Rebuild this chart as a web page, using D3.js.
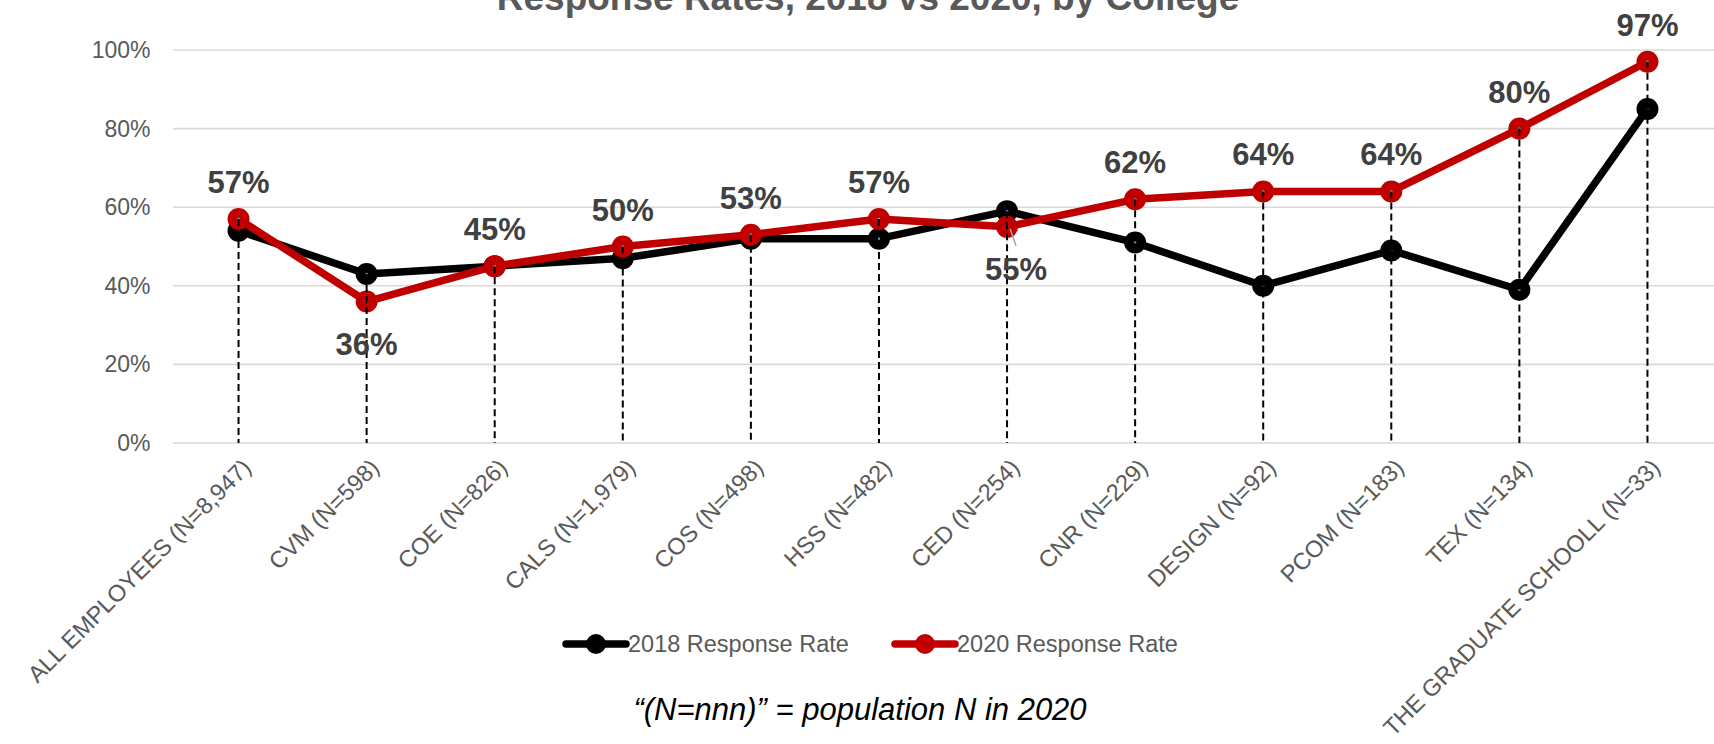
<!DOCTYPE html>
<html><head><meta charset="utf-8">
<script src="https://cdn.jsdelivr.net/npm/d3@7"></script>
<style>html,body{margin:0;padding:0;background:#fff;overflow:hidden}</style>
</head><body>
<svg id="chart" width="1714" height="744"></svg>
<script>
const categories = ["ALL EMPLOYEES (N=8,947)","CVM (N=598)","COE (N=826)","CALS (N=1,979)","COS (N=498)","HSS (N=482)","CED (N=254)","CNR (N=229)","DESIGN (N=92)","PCOM (N=183)","TEX (N=134)","THE GRADUATE SCHOOLL (N=33)"];
const rate2018 = [0.54,0.43,0.45,0.47,0.52,0.52,0.59,0.51,0.40,0.49,0.39,0.85];
const rate2020 = [0.57,0.36,0.45,0.50,0.53,0.57,0.55,0.62,0.64,0.64,0.80,0.97];
const labelBelow2020 = [false,true,false,false,false,false,true,false,false,false,false,false];
const yTicks = [0,0.2,0.4,0.6,0.8,1.0];
const seriesNames = ["2018 Response Rate","2020 Response Rate"];
const seriesColors = ["#000000","#C00000"];
const titleText = "Response Rates, 2018 vs 2020, by College";
const footnoteText = "\u201C(N=nnn)\u201D = population N in 2020";

const FONT = "'Liberation Sans', Arial, Helvetica, sans-serif";
const svg = d3.select("#chart");
const plotLeft = 173, plotRight = 1714;
const x = d3.scaleBand().domain(categories).range([174.5, 1711.5]).padding(0);
const cx = c => x(c) + x.bandwidth()/2;
const y = d3.scaleLinear().domain([0,1]).range([443, 50]);
const pct = d3.format(".0%");

// title
svg.append("text").attr("x", 868).attr("y", 10).attr("text-anchor","middle")
  .attr("font-family", FONT).attr("font-weight","bold").attr("font-size", 37)
  .attr("fill","#595959").text(titleText);

// gridlines
svg.append("g").selectAll("line").data(yTicks).join("line")
  .attr("x1", plotLeft).attr("x2", plotRight)
  .attr("y1", d => y(d)).attr("y2", d => y(d))
  .attr("stroke","#d9d9d9").attr("stroke-width",1.6);

// y axis labels
svg.append("g").selectAll("text").data(yTicks).join("text")
  .attr("x", 150.5).attr("y", d => y(d)).attr("dy","0.35em")
  .attr("text-anchor","end").attr("font-family",FONT).attr("font-size",23)
  .attr("fill","#595959").text(d => pct(d));

// x axis labels
svg.append("g").selectAll("text").data(categories).join("text")
  .attr("transform", d => `translate(${cx(d)+14},${y(0)+26}) rotate(-45)`)
  .attr("text-anchor","end").attr("font-family",FONT).attr("font-size",23.5)
  .attr("fill","#595959").text(d => d);

const data = [rate2018, rate2020];
const line = d3.line().x((d,i) => cx(categories[i])).y(d => y(d));

data.forEach((vals, s) => {
  svg.append("path").datum(vals).attr("d", line).attr("fill","none")
    .attr("stroke", seriesColors[s]).attr("stroke-width",7.5)
    .attr("stroke-linejoin","round");
  svg.append("g").selectAll("circle").data(vals).join("circle")
    .attr("cx", (d,i) => cx(categories[i])).attr("cy", d => y(d)).attr("r", 11)
    .attr("fill", seriesColors[s]);
  svg.append("g").selectAll("circle").data(vals).join("circle")
    .attr("cx", (d,i) => cx(categories[i])).attr("cy", d => y(d)).attr("r", 1.2)
    .attr("fill", s === 0 ? "#5b9bd5" : "#a6a6a6");
});

// drop lines
svg.append("g").selectAll("line").data(categories).join("line")
  .attr("x1", d => cx(d)).attr("x2", d => cx(d))
  .attr("y1", (d,i) => y(Math.max(rate2018[i], rate2020[i])))
  .attr("y2", y(0))
  .attr("stroke","#000").attr("stroke-width",2).attr("stroke-dasharray","7,4");

// leader line for CED
categories.forEach((c,i) => {
  if (labelBelow2020[i] && i === 6) {
    svg.append("line").attr("x1", cx(c)+3).attr("y1", y(rate2020[i])+2)
      .attr("x2", cx(c)+9).attr("y2", y(rate2020[i])+19)
      .attr("stroke","#a6a6a6").attr("stroke-width",1.5);
  }
});

// data labels for 2020
svg.append("g").selectAll("text").data(rate2020).join("text")
  .attr("x", (d,i) => cx(categories[i]) + (labelBelow2020[i] && i === 6 ? 9 : 0))
  .attr("y", (d,i) => labelBelow2020[i] ? y(d) + 53 : y(d) - 26)
  .attr("text-anchor","middle").attr("font-family",FONT).attr("font-weight","bold")
  .attr("font-size",31).attr("fill","#404040").text(d => pct(d));

// legend
const legendItems = [{x0:566, name:seriesNames[0], color:seriesColors[0]},{x0:895, name:seriesNames[1], color:seriesColors[1]}];
const lg = svg.append("g");
legendItems.forEach(it => {
  lg.append("line").attr("x1", it.x0).attr("x2", it.x0+60).attr("y1",644).attr("y2",644)
    .attr("stroke", it.color).attr("stroke-width",7.5).attr("stroke-linecap","round");
  lg.append("circle").attr("cx", it.x0+30).attr("cy",644).attr("r",10).attr("fill", it.color);
  lg.append("text").attr("x", it.x0+62).attr("y",644).attr("dy","0.35em")
    .attr("font-family",FONT).attr("font-size",23.5).attr("fill","#595959").text(it.name);
});

// footnote
svg.append("text").attr("x", 860).attr("y", 720).attr("text-anchor","middle")
  .attr("font-family",FONT).attr("font-style","italic").attr("font-size",31)
  .attr("fill","#000").text(footnoteText);
</script>
</body></html>
